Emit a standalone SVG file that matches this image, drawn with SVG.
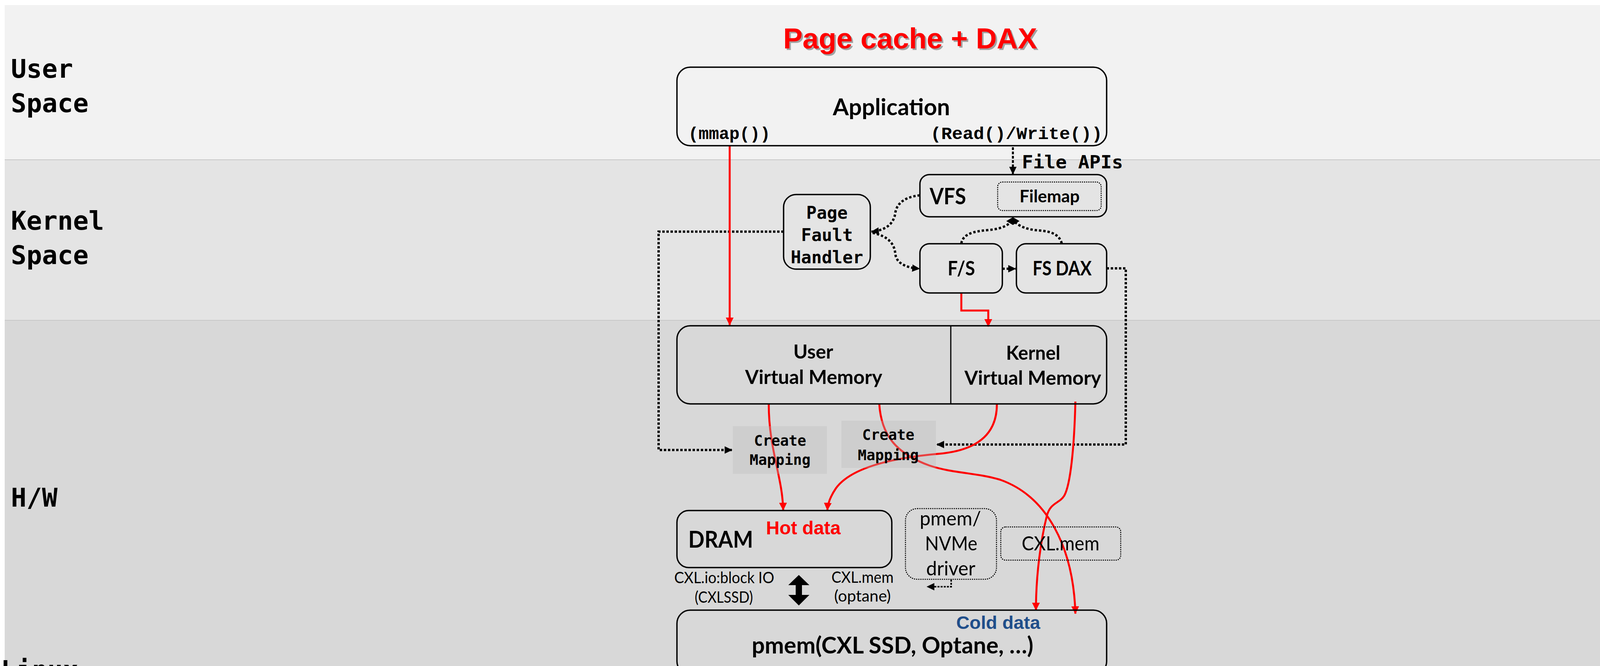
<svg xmlns="http://www.w3.org/2000/svg" width="4215" height="1705" viewBox="0 0 4215 1705">
<defs>
<style>
.band1{fill:#f2f2f2}
.band2{fill:#e4e4e4}
.band3{fill:#d8d8d8}
.sep{stroke:#c8c8c8;stroke-width:2}
.lbl{font-family:"DejaVu Sans Mono",monospace;font-weight:bold;font-size:66px;fill:#000}
.box{fill:none;stroke:#000;stroke-width:3.5}
.dbox{fill:none;stroke:#000;stroke-width:2.5;stroke-dasharray:3 2.5}
.cm{fill:#bcbcbc;fill-opacity:0.34}
.cal{font-family:Lato,"Liberation Sans",sans-serif;fill:#000}
.b{font-weight:bold}
.mono{font-family:"DejaVu Sans Mono",monospace;font-weight:bold;fill:#000}
.cour{font-family:"Liberation Mono","Courier New",monospace;font-weight:bold;font-size:45px;fill:#000}
.red{fill:none;stroke:#ff0000;stroke-width:5}
.dot{fill:none;stroke:#000;stroke-width:6;stroke-dasharray:6 4.5}
.dot2{fill:none;stroke:#000;stroke-width:6;stroke-dasharray:6 5}
</style>
<marker id="ra" markerUnits="userSpaceOnUse" markerWidth="20" markerHeight="20" viewBox="0 0 18 18" refX="17" refY="9" orient="auto"><path d="M0,0 L18,9 L0,18 z" fill="#ff0000"/></marker>
<marker id="ba" markerUnits="userSpaceOnUse" markerWidth="20" markerHeight="20" viewBox="0 0 18 17" refX="17" refY="8.5" orient="auto"><path d="M0,0 L18,8.5 L0,17 z" fill="#000"/></marker>
</defs>

<g id="background">
<rect x="12" y="13" width="4191" height="396" class="band1"/>
<rect x="12" y="409" width="4191" height="411" class="band2"/>
<rect x="12" y="820" width="4191" height="885" class="band3"/>
<line x1="12" y1="409" x2="4203" y2="409" class="sep"/>
<line x1="12" y1="820" x2="4203" y2="820" class="sep"/>
</g>

<g id="layer-labels">
<text class="lbl" x="28" y="199">User</text>
<text class="lbl" x="28" y="287">Space</text>
<text class="lbl" x="28" y="588">Kernel</text>
<text class="lbl" x="28" y="676">Space</text>
<text class="lbl" x="28" y="1297">H/W</text>
<text class="lbl" x="2" y="1738" font-size="68">Linux</text>
</g>

<g id="title">
<text x="2334" y="128" text-anchor="middle" font-family="Liberation Sans,Arial,sans-serif" font-weight="bold" font-size="74" fill="#606060" fill-opacity="0.55" textLength="650" lengthAdjust="spacingAndGlyphs">Page cache + DAX</text>
<text x="2330" y="124" text-anchor="middle" font-family="Liberation Sans,Arial,sans-serif" font-weight="bold" font-size="74" fill="#ff0000" textLength="650" lengthAdjust="spacingAndGlyphs">Page cache + DAX</text>
</g>

<g id="connectors">
<path class="dot" d="M2006,593 L1686,593 L1686,1152 L1874,1152" marker-end="url(#ba)"/>
<path class="dot" d="M2833,687 L2882,687 L2882,1138 L2398,1138" marker-end="url(#ba)"/>
<path fill="none" stroke="#000" stroke-width="5" stroke-dasharray="7 4" d="M2593,377 L2593,446" marker-end="url(#ba)"/>
<path class="dot2" d="M2355,500 C2310,505 2295,525 2292,545 C2288,575 2265,590 2231,593" marker-end="url(#ba)"/>
<path class="dot2" d="M2234,596 C2275,605 2290,625 2292,650 C2295,675 2320,685 2354,688" marker-end="url(#ba)"/>
<path class="dot2" d="M2461,623 C2465,600 2490,592 2530,589 C2560,586 2575,580 2586,570"/>
<path class="dot2" d="M2718,623 C2712,600 2690,592 2660,590 C2630,588 2612,580 2600,570"/>
<polygon points="2593,556 2610,566 2593,576 2576,566" fill="#000"/>
<path class="dot2" d="M2566,688 L2600,688" marker-end="url(#ba)"/>
<path fill="none" stroke="#000" stroke-width="4" stroke-dasharray="5 3" d="M2435,1484 L2435,1502 L2373,1502" marker-end="url(#ba)"/>
<polygon points="2045,1472 2072,1498 2053,1498 2053,1523 2072,1523 2045,1550 2018,1523 2037,1523 2037,1498 2018,1498" fill="#000"/>
<path class="red" d="M1868,374 L1868,832" marker-end="url(#ra)"/>
<path class="red" stroke-width="6" d="M2461,750 L2461,795 L2530,795 L2530,836" marker-end="url(#ra)"/>
<path class="red" d="M1968,1035 C1968,1150 2003,1220 2005,1306" marker-end="url(#ra)"/>
<path class="red" stroke-width="6" d="M2552,1035 C2552,1120 2490,1155 2400,1162 C2290,1172 2180,1195 2140,1250 C2125,1272 2119,1290 2118,1306" marker-end="url(#ra)"/>
<path class="red" stroke-width="6" d="M2251,1035 C2256,1110 2290,1160 2380,1192 C2440,1212 2500,1210 2560,1228 C2680,1270 2748,1400 2753,1571" marker-end="url(#ra)"/>
<path class="red" stroke-width="5" d="M2753,1028 C2750,1150 2740,1240 2725,1268 C2712,1290 2690,1285 2680,1320 C2665,1380 2652,1470 2652,1562" marker-end="url(#ra)"/>
</g>

<g id="application">
<rect class="box" x="1733" y="172" width="1100" height="201" rx="34"/>
<text class="cal b" x="2282" y="295" font-size="60" text-anchor="middle" textLength="300" lengthAdjust="spacingAndGlyphs">Application</text>
<text class="cour" x="1762" y="356" textLength="210" lengthAdjust="spacingAndGlyphs">(mmap())</text>
<text class="cour" x="2382" y="356" textLength="440" lengthAdjust="spacingAndGlyphs">(Read()/Write())</text>
</g>

<g id="file-apis-label">
<text class="mono" x="2616" y="431" font-size="47" textLength="259" lengthAdjust="spacingAndGlyphs">File APIs</text>
</g>

<g id="vfs">
<rect class="box" x="2355" y="447" width="478" height="108" rx="24"/>
<text class="cal b" x="2380" y="523" font-size="58" textLength="93" lengthAdjust="spacingAndGlyphs">VFS</text>
</g>

<g id="filemap">
<rect class="dbox" x="2554" y="466" width="265" height="73" rx="12"/>
<text class="cal b" x="2687" y="518" font-size="44" text-anchor="middle" textLength="154" lengthAdjust="spacingAndGlyphs">Filemap</text>
</g>

<g id="page-fault-handler">
<rect class="box" x="2006" y="498" width="222" height="191" rx="32"/>
<text class="mono" x="2117" y="560" font-size="44" text-anchor="middle">Page</text>
<text class="mono" x="2117" y="617" font-size="44" text-anchor="middle">Fault</text>
<text class="mono" x="2117" y="674" font-size="44" text-anchor="middle">Handler</text>
</g>

<g id="fs">
<rect class="box" x="2355" y="624" width="211" height="126" rx="24"/>
<text class="cal b" x="2461" y="705" font-size="52" text-anchor="middle" textLength="70" lengthAdjust="spacingAndGlyphs">F/S</text>
</g>

<g id="fs-dax">
<rect class="box" x="2602" y="624" width="231" height="126" rx="24"/>
<text class="cal b" x="2719" y="705" font-size="52" text-anchor="middle" textLength="151" lengthAdjust="spacingAndGlyphs">FS DAX</text>
</g>

<g id="virtual-memory">
<rect class="box" x="1733" y="834" width="1100" height="200" rx="34"/>
<line x1="2434" y1="834" x2="2434" y2="1034" stroke="#000" stroke-width="3"/>
<text class="cal b" x="2082" y="918" font-size="50" text-anchor="middle" textLength="102" lengthAdjust="spacingAndGlyphs">User</text>
<text class="cal b" x="2083" y="983" font-size="50" text-anchor="middle" textLength="351" lengthAdjust="spacingAndGlyphs">Virtual Memory</text>
<text class="cal b" x="2645" y="921" font-size="50" text-anchor="middle" textLength="139" lengthAdjust="spacingAndGlyphs">Kernel</text>
<text class="cal b" x="2644" y="985" font-size="50" text-anchor="middle" textLength="350" lengthAdjust="spacingAndGlyphs">Virtual Memory</text>
</g>

<g id="create-mapping-1">
<rect class="cm" x="1876" y="1091" width="241" height="122"/>
<text class="mono" x="1997" y="1141" font-size="37" text-anchor="middle">Create</text>
<text class="mono" x="1997" y="1190" font-size="37" text-anchor="middle">Mapping</text>
</g>

<g id="create-mapping-2">
<rect class="cm" x="2154" y="1077" width="242" height="121"/>
<text class="mono" x="2274" y="1126" font-size="37" text-anchor="middle">Create</text>
<text class="mono" x="2274" y="1178" font-size="37" text-anchor="middle">Mapping</text>
</g>

<g id="dram">
<rect class="box" x="1733" y="1307" width="550" height="146" rx="30"/>
<text class="cal b" x="1762" y="1402" font-size="60" textLength="166" lengthAdjust="spacingAndGlyphs">DRAM</text>
<text x="1961" y="1368" font-family="Liberation Sans,Arial,sans-serif" font-weight="bold" font-size="48" fill="#ff0000" textLength="191" lengthAdjust="spacingAndGlyphs">Hot data</text>
</g>

<g id="cxl-labels">
<text class="cal" x="1854" y="1493" font-size="41" text-anchor="middle" textLength="256" lengthAdjust="spacingAndGlyphs">CXL.io:block IO</text>
<text class="cal" x="1853" y="1543" font-size="41" text-anchor="middle" textLength="149" lengthAdjust="spacingAndGlyphs">(CXLSSD)</text>
<text class="cal" x="2208" y="1492" font-size="41" text-anchor="middle" textLength="159" lengthAdjust="spacingAndGlyphs">CXL.mem</text>
<text class="cal" x="2208" y="1540" font-size="41" text-anchor="middle" textLength="145" lengthAdjust="spacingAndGlyphs">(optane)</text>
</g>

<g id="pmem-nvme-driver">
<rect class="dbox" x="2318" y="1302" width="233" height="181" rx="30"/>
<text class="cal" x="2433" y="1345" font-size="50" text-anchor="middle" textLength="157" lengthAdjust="spacingAndGlyphs">pmem/</text>
<text class="cal" x="2435" y="1409" font-size="50" text-anchor="middle" textLength="134" lengthAdjust="spacingAndGlyphs">NVMe</text>
<text class="cal" x="2434" y="1473" font-size="50" text-anchor="middle" textLength="126" lengthAdjust="spacingAndGlyphs">driver</text>
</g>

<g id="cxl-mem">
<rect class="dbox" x="2562" y="1349" width="307" height="85" rx="12"/>
<text class="cal" x="2715" y="1409" font-size="50" text-anchor="middle" textLength="199" lengthAdjust="spacingAndGlyphs">CXL.mem</text>
</g>

<g id="pmem">
<rect class="box" x="1733" y="1562" width="1100" height="165" rx="34"/>
<text x="2448" y="1610" font-family="Liberation Sans,Arial,sans-serif" font-weight="bold" font-size="47" fill="#1f4e8a" textLength="215" lengthAdjust="spacingAndGlyphs">Cold data</text>
<text class="cal b" x="2285" y="1673" font-size="60" text-anchor="middle" textLength="721" lengthAdjust="spacingAndGlyphs">pmem(CXL SSD, Optane, …)</text>
</g>
</svg>
